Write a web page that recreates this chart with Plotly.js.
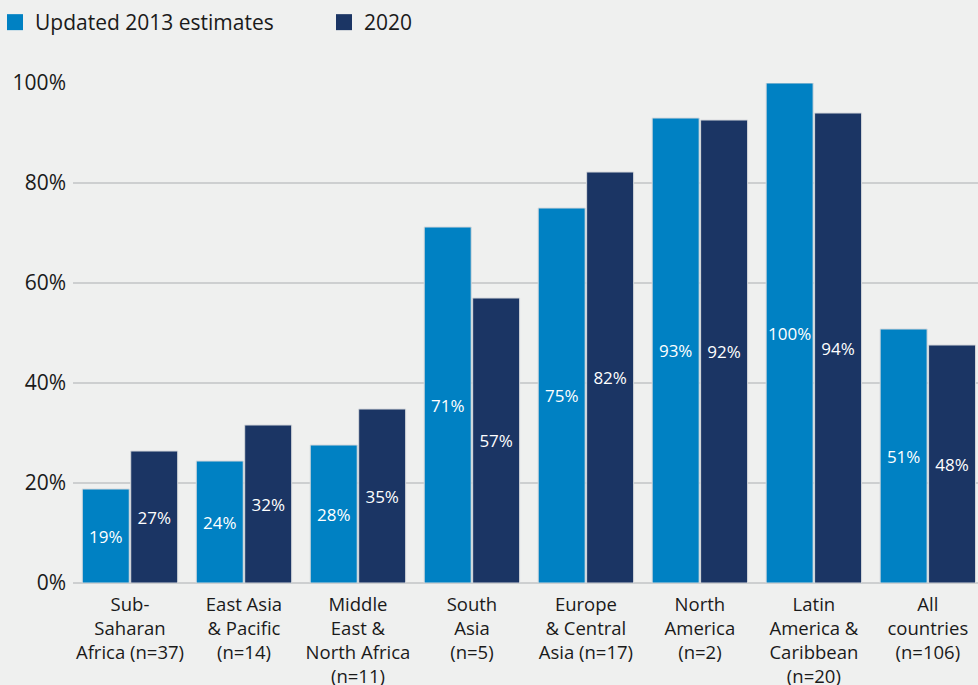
<!DOCTYPE html>
<html>
<head>
<meta charset="utf-8">
<script src="https://cdn.plot.ly/plotly-3.0.1.min.js"></script>
<style>
html,body{margin:0;padding:0;background:#eff0ef;}
#chart{width:978px;height:685px;}
</style>
</head>
<body>
<div id="chart"></div>
<script>
const categories = [
  "Sub-<br>Saharan<br>Africa (n=37)",
  "East Asia<br>& Pacific<br>(n=14)",
  "Middle<br>East &<br>North Africa<br>(n=11)",
  "South<br>Asia<br>(n=5)",
  "Europe<br>& Central<br>Asia (n=17)",
  "North<br>America<br>(n=2)",
  "Latin<br>America &<br>Caribbean<br>(n=20)",
  "All<br>countries<br>(n=106)"
];
const seriesNames = ["Updated 2013 estimates", "2020"];
const values2013 = [18.8, 24.4, 27.6, 71.2, 75.0, 93.0, 100.0, 50.8];
const values2020 = [26.4, 31.6, 34.8, 57.0, 82.2, 92.6, 94.0, 47.6];
const labels2013 = ["19%", "24%", "28%", "71%", "75%", "93%", "100%", "51%"];
const labels2020 = ["27%", "32%", "35%", "57%", "82%", "92%", "94%", "48%"];
const yTickVals = [0, 20, 40, 60, 80, 100];
const yTickText = ["0%", "20%", "40%", "60%", "80%", "100%"];
const colors = ["#0081c3", "#1b3564"];

const FONT = "'Open Sans', 'Noto Sans', sans-serif";

function barTrace(name, vals, labels, color) {
  return {
    type: "bar",
    name: name,
    x: categories,
    y: vals,
    text: labels,
    textposition: "inside",
    insidetextanchor: "middle",
    constraintext: "none",
    textangle: 0,
    textfont: {family: FONT, size: 17, color: "#ffffff"},
    marker: {color: color, line: {color: "#d6d9dc", width: 1}},
    showlegend: false,
    hoverinfo: "skip"
  };
}

function legendTrace(name, color) {
  return {
    type: "scatter",
    mode: "markers",
    name: name,
    x: [null],
    y: [null],
    marker: {symbol: "square", size: 16, color: color, line: {width: 0}},
    showlegend: true,
    hoverinfo: "skip"
  };
}

const data = [
  barTrace(seriesNames[0], values2013, labels2013, colors[0]),
  barTrace(seriesNames[1], values2020, labels2020, colors[1]),
  legendTrace(seriesNames[0], colors[0]),
  legendTrace(seriesNames[1], colors[1])
];

const layout = {
  width: 978,
  height: 685,
  paper_bgcolor: "#eff0ef",
  plot_bgcolor: "#eff0ef",
  font: {family: FONT, size: 18, color: "#1a1a1a"},
  margin: {l: 73, r: 0, t: 83, b: 102, pad: 0, autoexpand: false},
  barmode: "group",
  bargap: 0.15,
  bargroupgap: 0.03,
  showlegend: true,
  legend: {
    orientation: "h",
    x: -0.0862,
    xanchor: "left",
    y: 1.162,
    yanchor: "top",
    font: {family: FONT, size: 21, color: "#1a1a1a"},
    bgcolor: "rgba(0,0,0,0)",
    itemwidth: 30,
    entrywidth: 284,
    itemclick: false,
    itemdoubleclick: false,
    traceorder: "normal"
  },
  xaxis: {
    type: "category",
    range: [-0.5, 7.44],
    automargin: false,
    showgrid: false,
    zeroline: false,
    showline: false,
    ticks: "",
    tickangle: 0,
    ticklabelstandoff: 8,
    tickfont: {family: FONT, size: 18.5, color: "#1a1a1a"},
    fixedrange: true
  },
  yaxis: {
    range: [0, 100],
    automargin: false,
    tickvals: yTickVals,
    ticktext: yTickText,
    showgrid: true,
    gridcolor: "#cdcfd0",
    gridwidth: 1.5,
    zeroline: true,
    zerolinecolor: "#cdcfd0",
    zerolinewidth: 1.5,
    showline: false,
    ticks: "",
    ticklabelstandoff: 6,
    tickfont: {family: FONT, size: 21, color: "#1a1a1a"},
    fixedrange: true
  }
};

Plotly.newPlot("chart", data, layout, {displayModeBar: false, staticPlot: true});
</script>
</body>
</html>
